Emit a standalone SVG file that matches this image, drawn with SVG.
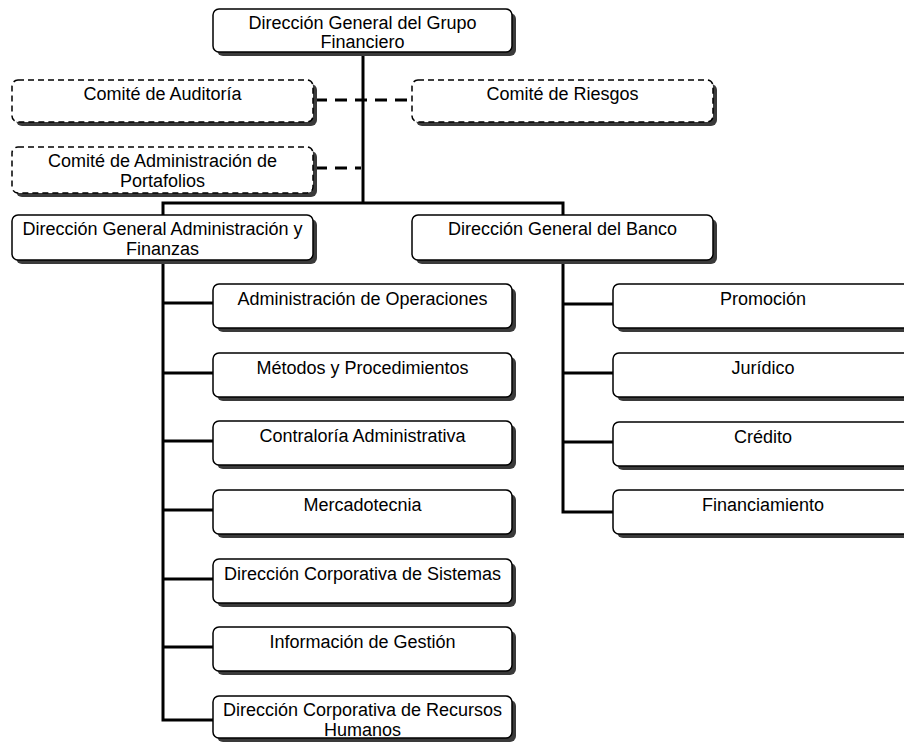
<svg xmlns="http://www.w3.org/2000/svg" width="904" height="744" viewBox="0 0 904 744">
  <style>
    .shadow { fill: #3a3a3a; stroke: none; }
    .box { fill: #ffffff; stroke: #000000; stroke-width: 1.5; }
    .dashed { stroke-dasharray: 6 4; }
    .label { font-family: "Liberation Sans", Arial, sans-serif; font-size: 18px; fill: #000000; text-anchor: middle; }
    .link { fill: none; stroke: #000000; stroke-width: 3; stroke-linejoin: miter; }
    .dotted-link { fill: none; stroke: #000000; stroke-width: 3; stroke-dasharray: 12 8; }
  </style>
  <rect width="904" height="744" fill="#ffffff"/>

  <!-- connectors -->
  <g id="connectors">
    <path class="link" d="M363,52 V203"/>
    <path class="link" d="M163,215 V203 H563 V215"/>
    <path class="link" d="M163,260 V720 H213 M163,303 H213 M163,373 H213 M163,441 H213 M163,510 H213 M163,579 H213 M163,647 H213"/>
    <path class="link" d="M563,260 V512 H613 M563,304 H613 M563,373 H613 M563,442 H613"/>
    <path class="dotted-link" d="M315,100 H410"/>
    <path class="dotted-link" d="M315,168 H361"/>
  </g>

  <!-- top -->
  <g id="n-grupo">
    <rect class="shadow" x="217" y="13" width="299" height="43" rx="6"/>
    <rect class="box" x="213" y="9" width="299" height="43" rx="6"/>
    <text class="label" x="362.5" y="29">Dirección General del Grupo</text>
    <text class="label" x="362.5" y="48">Financiero</text>
  </g>

  <!-- committees -->
  <g id="n-auditoria">
    <rect class="shadow" x="16" y="84" width="301" height="42" rx="6"/>
    <rect class="box dashed" x="12" y="80" width="301" height="42" rx="6"/>
    <text class="label" x="162.5" y="100">Comité de Auditoría</text>
  </g>
  <g id="n-riesgos">
    <rect class="shadow" x="416" y="84" width="301" height="42" rx="6"/>
    <rect class="box dashed" x="412" y="80" width="301" height="42" rx="6"/>
    <text class="label" x="562.5" y="100">Comité de Riesgos</text>
  </g>
  <g id="n-portafolios">
    <rect class="shadow" x="16" y="151" width="301" height="46" rx="6"/>
    <rect class="box dashed" x="12" y="147" width="301" height="46" rx="6"/>
    <text class="label" x="162.5" y="167">Comité de Administración de</text>
    <text class="label" x="162.5" y="187">Portafolios</text>
  </g>

  <!-- general directions -->
  <g id="n-dgaf">
    <rect class="shadow" x="16" y="219" width="301" height="45" rx="6"/>
    <rect class="box" x="12" y="215" width="301" height="45" rx="6"/>
    <text class="label" x="162.5" y="235">Dirección General Administración y</text>
    <text class="label" x="162.5" y="255">Finanzas</text>
  </g>
  <g id="n-dgb">
    <rect class="shadow" x="416" y="219" width="301" height="45" rx="6"/>
    <rect class="box" x="412" y="215" width="301" height="45" rx="6"/>
    <text class="label" x="562.5" y="235">Dirección General del Banco</text>
  </g>

  <!-- administration & finance units -->
  <g id="n-operaciones">
    <rect class="shadow" x="217" y="288" width="299" height="44" rx="6"/>
    <rect class="box" x="213" y="284" width="299" height="44" rx="6"/>
    <text class="label" x="362.5" y="305">Administración de Operaciones</text>
  </g>
  <g id="n-metodos">
    <rect class="shadow" x="217" y="357" width="299" height="44" rx="6"/>
    <rect class="box" x="213" y="353" width="299" height="44" rx="6"/>
    <text class="label" x="362.5" y="374">Métodos y Procedimientos</text>
  </g>
  <g id="n-contraloria">
    <rect class="shadow" x="217" y="425" width="299" height="44" rx="6"/>
    <rect class="box" x="213" y="421" width="299" height="44" rx="6"/>
    <text class="label" x="362.5" y="442">Contraloría Administrativa</text>
  </g>
  <g id="n-mercadotecnia">
    <rect class="shadow" x="217" y="494" width="299" height="44" rx="6"/>
    <rect class="box" x="213" y="490" width="299" height="44" rx="6"/>
    <text class="label" x="362.5" y="511">Mercadotecnia</text>
  </g>
  <g id="n-sistemas">
    <rect class="shadow" x="217" y="563" width="299" height="44" rx="6"/>
    <rect class="box" x="213" y="559" width="299" height="44" rx="6"/>
    <text class="label" x="362.5" y="580">Dirección Corporativa de Sistemas</text>
  </g>
  <g id="n-gestion">
    <rect class="shadow" x="217" y="631" width="299" height="44" rx="6"/>
    <rect class="box" x="213" y="627" width="299" height="44" rx="6"/>
    <text class="label" x="362.5" y="648">Información de Gestión</text>
  </g>
  <g id="n-rrhh">
    <rect class="shadow" x="217" y="700" width="299" height="42" rx="6"/>
    <rect class="box" x="213" y="696" width="299" height="42" rx="6"/>
    <text class="label" x="362.5" y="716">Dirección Corporativa de Recursos</text>
    <text class="label" x="362.5" y="736">Humanos</text>
  </g>

  <!-- bank units -->
  <g id="n-promocion">
    <rect class="shadow" x="617" y="288" width="300" height="44" rx="6"/>
    <rect class="box" x="613" y="284" width="300" height="44" rx="6"/>
    <text class="label" x="763" y="305">Promoción</text>
  </g>
  <g id="n-juridico">
    <rect class="shadow" x="617" y="357" width="300" height="44" rx="6"/>
    <rect class="box" x="613" y="353" width="300" height="44" rx="6"/>
    <text class="label" x="763" y="374">Jurídico</text>
  </g>
  <g id="n-credito">
    <rect class="shadow" x="617" y="426" width="300" height="44" rx="6"/>
    <rect class="box" x="613" y="422" width="300" height="44" rx="6"/>
    <text class="label" x="763" y="443">Crédito</text>
  </g>
  <g id="n-financiamiento">
    <rect class="shadow" x="617" y="494" width="300" height="44" rx="6"/>
    <rect class="box" x="613" y="490" width="300" height="44" rx="6"/>
    <text class="label" x="763" y="511">Financiamiento</text>
  </g>
</svg>
